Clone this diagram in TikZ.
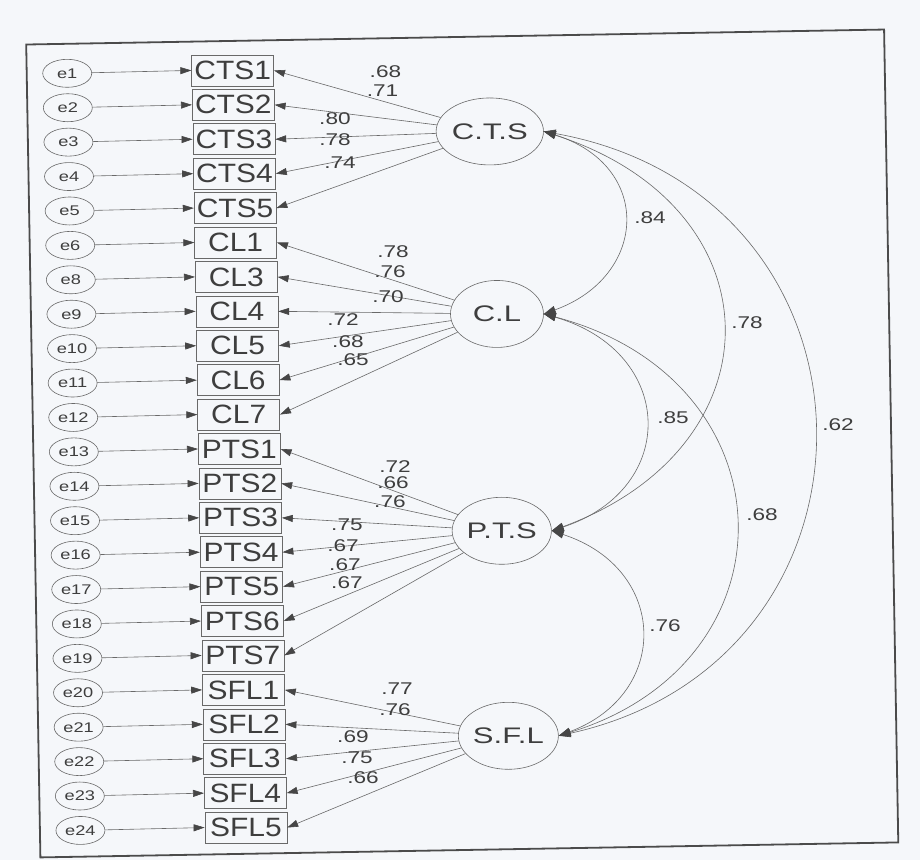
\documentclass[tikz,border=0pt]{standalone}
\usepackage{fontspec}
\usetikzlibrary{arrows.meta,shapes.geometric}
\newfontfamily\itemfont[FakeStretch=1.13]{Liberation Sans}
\newfontfamily\latfont[FakeStretch=1.38]{Liberation Sans}
\newfontfamily\numfont[FakeStretch=1.33]{Liberation Sans}
\newfontfamily\efont[FakeStretch=1.3]{Liberation Sans}
\definecolor{ink}{RGB}{62,62,62}
\definecolor{linec}{RGB}{105,105,105}
\definecolor{tipc}{RGB}{70,70,70}
\definecolor{paper}{RGB}{245,247,250}
\definecolor{framec}{RGB}{75,75,75}
\begin{document}
\begin{tikzpicture}[x=1pt,y=-1pt,
  errnode/.style={ellipse, draw=linec, line width=0.6pt, minimum width=49pt, minimum height=28pt, inner sep=0pt, text=ink, font=\efont\fontsize{14}{14}\selectfont},
  itembox/.style={rectangle, draw=linec, line width=0.6pt, minimum width=82pt, minimum height=31pt, inner sep=0pt, text=ink, font=\itemfont\fontsize{26.5}{26.5}\selectfont},
  latent/.style={ellipse, draw=linec, line width=0.6pt, minimum width=93pt, minimum height=67pt, inner sep=0pt, text=ink, font=\latfont\fontsize{22.5}{22.5}\selectfont},
  wt/.style={text=ink, inner sep=0pt, font=\numfont\fontsize{17}{17}\selectfont},
  arr/.style={draw=linec, line width=0.6pt, -{Triangle[length=11pt,width=7pt,color=tipc]}},
  cov/.style={draw=linec, line width=0.6pt, {Triangle[length=12pt,width=8pt,color=tipc]}-{Triangle[length=12pt,width=8pt,color=tipc]}}
]
\useasboundingbox (0,0) rectangle (920,860);
\fill[paper] (0,0) rectangle (920,860);
\begin{scope}[rotate around={1:(460,430)}]
\draw[framec, line width=1.8pt] (33,37) rectangle (891,850);
% latent variables
\node[latent] (cts) at (495,132) {C.T.S};
\node[latent] (cl) at (499,314.6) {C.L};
\node[latent] (pts) at (500,531.5) {P.T.S};
\node[latent] (sfl) at (503,736.6) {S.F.L};
% indicators and errors
\foreach \i/\e/\it/\f in {0/e1/CTS1/cts,1/e2/CTS2/cts,2/e3/CTS3/cts,3/e4/CTS4/cts,4/e5/CTS5/cts,
  5/e6/CL1/cl,6/e8/CL3/cl,7/e9/CL4/cl,8/e10/CL5/cl,9/e11/CL6/cl,10/e12/CL7/cl,
  11/e13/PTS1/pts,12/e14/PTS2/pts,13/e15/PTS3/pts,14/e16/PTS4/pts,15/e17/PTS5/pts,16/e18/PTS6/pts,17/e19/PTS7/pts,
  18/e20/SFL1/sfl,19/e21/SFL2/sfl,20/e22/SFL3/sfl,21/e23/SFL4/sfl,22/e24/SFL5/sfl}{
  \node[itembox] (it\i) at (239,{66.5+\i*34.42}) {\it};
  \node[errnode] (er\i) at (73.5,{66.5+\i*34.42}) {\e};
  \draw[arr] (er\i) -- (it\i.west);
  \draw[arr] (\f) -- (it\i.east);
}
% loading labels
\node[wt] (l1) at (391.7,70) {.68};
\node[wt] (l2) at (388.4,89.5) {.71};
\node[wt] (l3) at (340.4,116.8) {.80};
\node[wt] (l4) at (340.1,137.8) {.78};
\node[wt] (l5) at (344.7,160.9) {.74};
\node[wt] (l6) at (396.1,250.8) {.78};
\node[wt] (l7) at (392.8,270.8) {.76};
\node[wt] (l8) at (390.3,295.7) {.70};
\node[wt] (l9) at (344.9,318) {.72};
\node[wt] (l10) at (349.5,340) {.68};
\node[wt] (l11) at (354.2,358.1) {.65};
\node[wt] (l12) at (394.4,465.9) {.72};
\node[wt] (l13) at (392.1,481.8) {.66};
\node[wt] (l14) at (388.7,500.8) {.76};
\node[wt] (l15) at (345.3,523) {.75};
\node[wt] (l16) at (341,544) {.67};
\node[wt] (l17) at (342.6,563) {.67};
\node[wt] (l18) at (344.3,581) {.67};
\node[wt] (l19) at (392.5,687.9) {.77};
\node[wt] (l20) at (390.1,708.9) {.76};
\node[wt] (l21) at (347.6,735.1) {.69};
\node[wt] (l22) at (351.3,756.2) {.75};
\node[wt] (l23) at (356.9,776.3) {.66};
% covariances
\draw[cov] (cts.east) .. controls +(109,36) and +(105,-36) .. (cl.east);
\draw[cov] (cts.east) .. controls +(235,80) and +(231,-80) .. (pts.east);
\draw[cov] (cts.east) .. controls +(354,70) and +(346,-70) .. (sfl.east);
\draw[cov] (cl.east) .. controls +(131,40) and +(129,-40) .. (pts.east);
\draw[cov] (cl.east) .. controls +(248,70) and +(243,-70) .. (sfl.east);
\draw[cov] (pts.east) .. controls +(116,40) and +(113,-40) .. (sfl.east);
\node[wt] (c1) at (653.7,221.3) {.84};
\node[wt] (c2) at (748.9,328) {.78};
\node[wt] (c3) at (838.1,431.6) {.62};
\node[wt] (c4) at (673.2,421.7) {.85};
\node[wt] (c5) at (760.5,520.3) {.68};
\node[wt] (c6) at (661.6,629.6) {.76};
\end{scope}
\end{tikzpicture}
\end{document}
